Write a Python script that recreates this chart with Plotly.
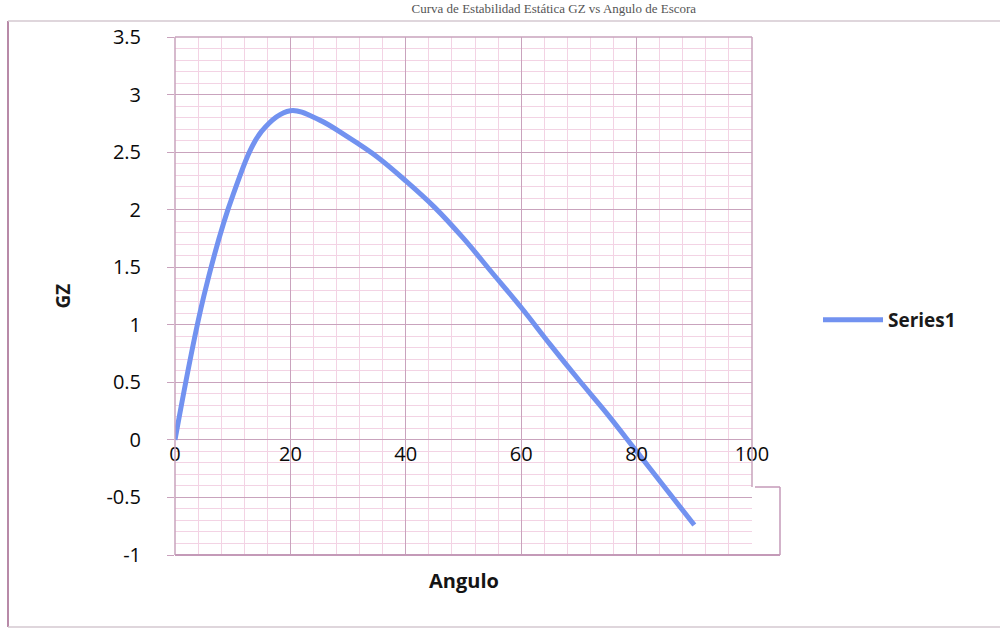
import plotly.graph_objects as go

angulo = [0, 5, 10, 15, 20, 25, 30, 35, 40, 45, 50, 55, 60, 65, 70, 75, 80, 85, 90]
gz = [0, 1.25, 2.12, 2.68, 2.86, 2.78, 2.63, 2.46, 2.25, 2.02, 1.75, 1.45, 1.15, 0.83, 0.52, 0.22, -0.1, -0.42, -0.74]

x_ticks = [0, 20, 40, 60, 80, 100]
y_ticks = [-1, -0.5, 0, 0.5, 1, 1.5, 2, 2.5, 3, 3.5]

major = "#c9a3bd"
minor = "#f3d3e4"
tickfont = dict(family="Open Sans", size=20, color="#0a0a0a")

fig = go.Figure()
fig.add_trace(go.Scatter(
    x=angulo, y=gz, mode="lines", name="Series1",
    line=dict(color="#7292f0", width=5, shape="spline", smoothing=1.0),
))

L, R, T, B = 175, 255, 37, 75
W, H = 1007, 630
pw, ph = W - L - R, H - T - B

fig.update_layout(
    width=W, height=H,
    margin=dict(l=L, r=R, t=T, b=B),
    paper_bgcolor="white", plot_bgcolor="white",
    showlegend=True,
    legend=dict(x=(818 - L) / pw, y=(H - B - 320) / ph, xanchor="left", yanchor="middle",
                font=dict(family="Open Sans", size=19, color="#1a1a1a", weight="bold"),
                itemwidth=60, bgcolor="rgba(0,0,0,0)"),
    title=dict(text="Curva de Estabilidad Estática GZ vs Angulo de Escora",
               font=dict(family="Liberation Serif", size=13, color="#555"),
               x=0.55, xanchor="center", y=1 - 4 / H, yref="container", yanchor="top"),
    xaxis=dict(range=[0, 100], tickvals=x_ticks, ticktext=[str(v) for v in x_ticks],
               anchor="free", position=1 / 4.5, showline=False, zeroline=False,
               showgrid=True, gridcolor=major, gridwidth=1.3,
               minor=dict(dtick=4, tick0=0, showgrid=True, gridcolor=minor, gridwidth=1),
               ticks="", tickfont=tickfont, ticklabelstandoff=0),
    yaxis=dict(range=[-1, 3.5], tickvals=y_ticks,
               ticktext=[("%g" % v) for v in y_ticks],
               showline=False, zeroline=False,
               showgrid=True, gridcolor=major, gridwidth=1.3,
               minor=dict(dtick=0.1, tick0=0, showgrid=True, gridcolor=minor, gridwidth=1),
               ticks="outside", ticklen=7, tickcolor=major, tickfont=tickfont,
               ticklabelstandoff=22,
               title=dict(text="GZ", font=dict(family="Open Sans", size=19, color="#1a1a1a", weight="bold"),
                          standoff=30)),
)

# x axis title at the bottom
fig.add_annotation(text="Angulo", xref="paper", yref="paper", x=0.5, y=-(580 - 555) / ph,
                   showarrow=False, yanchor="middle",
                   font=dict(family="Open Sans", size=20, color="#141414", weight="bold"))

def px(xp):
    return (xp - L) / pw

def py(yp):
    return (H - B - yp) / ph

# plot area border
fig.add_shape(type="line", xref="paper", yref="paper", x0=0, x1=1, y0=1, y1=1, line=dict(color=major, width=1.5))
fig.add_shape(type="line", xref="paper", yref="paper", x0=0, x1=0, y0=0, y1=1, line=dict(color=major, width=1.5))
fig.add_shape(type="line", xref="paper", yref="paper", x0=1, x1=1, y0=py(487), y1=1, line=dict(color=major, width=1.5))
fig.add_shape(type="line", xref="paper", yref="paper", x0=0, x1=px(780), y0=0, y1=0, line=dict(color="#c49ab8", width=2))
fig.add_shape(type="line", xref="paper", yref="paper", x0=px(780), x1=px(780), y0=0, y1=py(487), line=dict(color="#c49ab8", width=1.5))
fig.add_shape(type="line", xref="paper", yref="paper", x0=px(755), x1=px(780), y0=py(487), y1=py(487), line=dict(color="#c49ab8", width=1.5))

# outer chart frame
fig.add_shape(type="line", xref="paper", yref="paper", x0=px(8), x1=px(8), y0=py(627), y1=py(21), line=dict(color="#b88aa8", width=2))
fig.add_shape(type="line", xref="paper", yref="paper", x0=px(8), x1=px(1000), y0=py(21), y1=py(21), line=dict(color="#d5c8d0", width=1.5))
fig.add_shape(type="line", xref="paper", yref="paper", x0=px(8), x1=px(1000), y0=py(627), y1=py(627), line=dict(color="#d5c8d0", width=1.5))

fig.write_html("out.html")
